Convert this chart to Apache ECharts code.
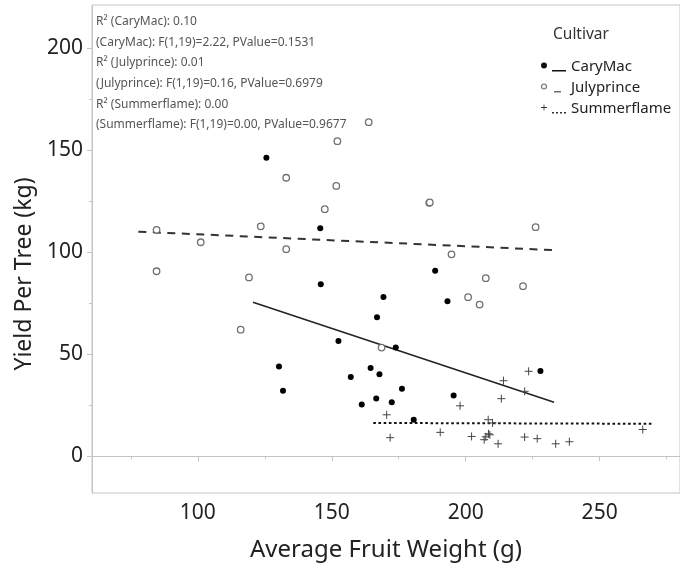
<!DOCTYPE html>
<html>
<head>
<meta charset="utf-8">
<script src="https://cdn.jsdelivr.net/npm/echarts@6/dist/echarts.min.js"></script>
<style>html,body{margin:0;padding:0;background:#fff;}#chart{width:680px;height:571px;}</style>
</head>
<body>
<div id="chart"></div>
<script>
// ---- data ----
const cultivars = ['CaryMac', 'Julyprince', 'Summerflame'];

const caryMacX = [125.6,145.7,145.9,188.6,169.3,193.2,166.9,152.5,173.9,130.3,131.8,164.5,167.8,157.1,176.2,166.6,161.2,172.4,195.5,180.6,227.9];
const caryMacY = [146.2,111.7,84.2,90.9,78.0,75.9,68.1,56.5,53.2,44.0,32.1,43.2,40.1,38.8,33.1,28.3,25.4,26.4,29.7,17.9,41.8];

const julyprinceX = [163.8,152.1,133.0,151.7,186.4,186.6,147.4,123.5,226.1,84.6,101.1,133.0,194.7,84.6,119.1,207.5,221.4,200.9,205.2,116.0,168.6];
const julyprinceY = [163.6,154.3,136.4,132.4,124.1,124.3,121.0,112.6,112.2,110.9,104.8,101.4,98.9,90.6,87.6,87.2,83.3,77.9,74.3,62.0,53.2];

const summerflameX = [170.5,197.9,171.8,190.5,202.2,223.5,214.1,222.0,213.3,208.4,210.0,208.5,206.9,212.1,222.0,226.7,233.6,238.7,266.1,209.0,207.5];
const summerflameY = [20.3,24.7,9.1,11.7,9.7,41.6,37.0,31.8,28.2,17.9,16.3,11.0,8.1,6.1,9.4,8.6,6.1,7.1,13.1,10.5,9.5];

// fitted lines (end points)
const caryMacFitX = [120.6, 233.0];
const caryMacFitY = [75.4, 26.4];
const julyprinceFitX = [77.8, 233.6];
const julyprinceFitY = [110.0, 100.9];
const summerflameFitX = [165.5, 270.2];
const summerflameFitY = [16.3, 15.9];

const xMajorTicks = [100, 150, 200, 250];
const xMinorTicks = [75, 125, 175, 225, 275];
const yMajorTicks = [0, 50, 100, 150, 200];
const yMinorTicks = [25, 75, 125, 175];

const statLines = [
  'R² (CaryMac): 0.10',
  '(CaryMac): F(1,19)=2.22, PValue=0.1531',
  'R² (Julyprince): 0.01',
  '(Julyprince): F(1,19)=0.16, PValue=0.6979',
  'R² (Summerflame): 0.00',
  '(Summerflame): F(1,19)=0.00, PValue=0.9677'
];

// ---- build ----
const zip = (xs, ys) => xs.map((x, i) => [x, ys[i]]);
const FONT = 'Noto Sans';
const XMIN = 60.5, XMAX = 280, YMIN = -18, YMAX = 221;
const frameColor = '#c4c4c4';

const chart = echarts.init(document.getElementById('chart'), null, {renderer: 'canvas'});

const icons = {
  CaryMac: 'path://M0,3a3,3 0 1,0 6,0a3,3 0 1,0 -6,0Z M11,7.4H25V9H11Z',
  Julyprince: 'path://M0,3a3,3 0 1,0 6,0a3,3 0 1,0 -6,0Z M1.1,3a1.9,1.9 0 1,1 3.8,0a1.9,1.9 0 1,1 -3.8,0Z M13,7.4H20V9H13Z M24.9,8.9H25V9H24.9Z',
  Summerflame: 'path://M2.6,0H3.4V6H2.6Z M0,2.6H6V3.4H0Z M11,7.6H13V9H11Z M15,7.6H17V9H15Z M19,7.6H21V9H19Z M23,7.6H25V9H23Z'
};
const iconColors = {CaryMac: '#111', Julyprince: '#6e6e6e', Summerflame: '#333'};

const option = {
  animation: false,
  backgroundColor: '#fff',
  textStyle: {fontFamily: FONT},
  title: [
    {
      text: statLines.join('\n'),
      left: 96, top: 11.5, padding: 0,
      textStyle: {fontFamily: FONT, fontSize: 12, fontWeight: 'normal', color: '#555', lineHeight: 20.6}
    },
    {
      text: 'Cultivar',
      left: 553, top: 27, padding: 0,
      textStyle: {fontFamily: FONT, fontSize: 15.5, fontWeight: 'normal', color: '#333'}
    }
  ],
  legend: {
    orient: 'vertical',
    left: 541, top: 58, padding: 0,
    itemWidth: 25, itemHeight: 9, itemGap: 3,
    selectedMode: false,
    textStyle: {fontFamily: FONT, fontSize: 15, color: '#222', lineHeight: 18},
    data: cultivars.map(n => ({name: n, icon: icons[n], itemStyle: {color: iconColors[n], borderWidth: 0}}))
  },
  grid: {left: 92, top: 5, right: 0, bottom: 78, show: true, borderColor: frameColor, borderWidth: 1, containLabel: false},
  xAxis: [
    {
      type: 'value', min: XMIN, max: XMAX, position: 'bottom',
      name: 'Average Fruit Weight (g)', nameLocation: 'middle', nameGap: 45,
      nameTextStyle: {fontFamily: FONT, fontSize: 24, color: '#222'},
      axisLine: {show: true, lineStyle: {color: frameColor}},
      axisTick: {show: true, inside: false, length: 5, lineStyle: {color: frameColor}, customValues: xMajorTicks},
      axisLabel: {show: true, margin: 10, fontFamily: FONT, fontSize: 21, color: '#222', customValues: xMajorTicks},
      splitLine: {show: false}
    },
    {
      type: 'value', min: XMIN, max: XMAX, position: 'bottom', offset: 0,
      axisLine: {show: false},
      axisTick: {show: true, inside: false, length: 3, lineStyle: {color: frameColor}, customValues: xMinorTicks},
      axisLabel: {show: false},
      splitLine: {show: false}
    }
  ],
  yAxis: [
    {
      type: 'value', min: YMIN, max: YMAX, position: 'left',
      name: 'Yield Per Tree (kg)', nameLocation: 'middle', nameGap: 46, nameRotate: 90,
      nameTextStyle: {fontFamily: FONT, fontSize: 23, color: '#222', padding: [0, 50, 0, 0]},
      axisLine: {show: true, lineStyle: {color: frameColor}},
      axisTick: {show: true, inside: false, length: 5, lineStyle: {color: frameColor}, customValues: yMajorTicks},
      axisLabel: {show: true, margin: 9, fontFamily: FONT, fontSize: 21, color: '#222', customValues: yMajorTicks},
      splitLine: {show: false}
    },
    {
      type: 'value', min: YMIN, max: YMAX, position: 'left', offset: 0,
      axisLine: {show: false},
      axisTick: {show: true, inside: false, length: 3, lineStyle: {color: frameColor}, customValues: yMinorTicks},
      axisLabel: {show: false},
      splitLine: {show: false}
    }
  ],
  series: [
    {
      name: 'CaryMac fit', type: 'line', data: zip(caryMacFitX, caryMacFitY),
      showSymbol: false, silent: true, z: 2,
      lineStyle: {color: '#222', width: 1.6, type: 'solid'}
    },
    {
      name: 'Julyprince fit', type: 'line', data: zip(julyprinceFitX, julyprinceFitY),
      showSymbol: false, silent: true, z: 2,
      lineStyle: {color: '#333', width: 2, type: [8, 6.5]}
    },
    {
      name: 'Summerflame fit', type: 'line', data: zip(summerflameFitX, summerflameFitY),
      showSymbol: false, silent: true, z: 2,
      lineStyle: {color: '#111', width: 2, type: [2.6, 2.6]}
    },
    {
      name: 'CaryMac', type: 'scatter', data: zip(caryMacX, caryMacY),
      symbol: 'circle', symbolSize: 6, z: 3,
      itemStyle: {color: '#000', opacity: 1}
    },
    {
      name: 'Julyprince', type: 'scatter', data: zip(julyprinceX, julyprinceY),
      symbol: 'circle', symbolSize: 6.5, z: 3,
      itemStyle: {color: '#fff', borderColor: '#707070', borderWidth: 1.3, opacity: 1}
    },
    {
      name: 'Summerflame', type: 'scatter', data: zip(summerflameX, summerflameY),
      symbol: 'path://M4,0V8M0,4H8', symbolSize: 8, z: 3,
      itemStyle: {color: 'rgba(0,0,0,0)', borderColor: '#444', borderWidth: 1, opacity: 1}
    }
  ]
};

chart.setOption(option);
</script>
</body>
</html>
